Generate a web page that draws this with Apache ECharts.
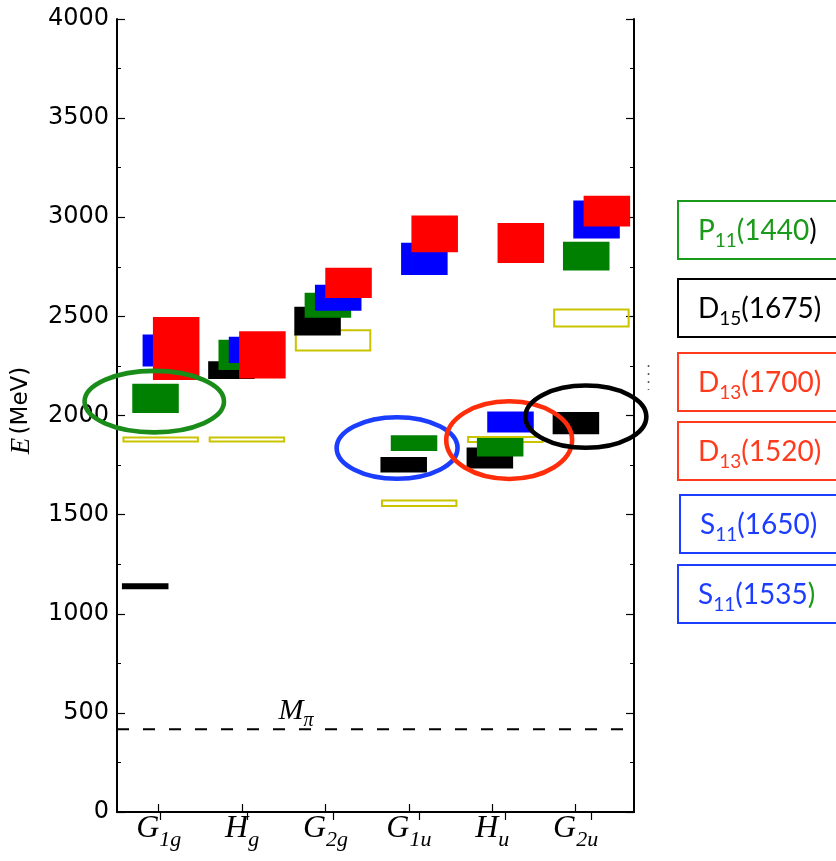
<!DOCTYPE html>
<html><head><meta charset="utf-8">
<script src="https://cdn.jsdelivr.net/npm/echarts@6/dist/echarts.min.js"></script>
<style>html,body{margin:0;padding:0;background:#fff}#c{width:836px;height:861px}</style>
</head><body><div id="c"></div>
<script>
// ---- data ----
const categoryMain = ['G', 'H', 'G', 'G', 'H', 'G'];
const categorySub  = ['1g', 'g', '2g', '1u', 'u', '2u'];
const categoryTicks = [1, 2, 3, 4, 5, 6];
const groupX = [1.024, 2.058, 3.091, 4.124, 5.157, 6.189];   // box-group positions (top ticks)
const yTicks = [0, 500, 1000, 1500, 2000, 2500, 3000, 3500, 4000];

// energies (MeV) and half-heights (MeV), per category
const blackE = [1139, 2229, 2476, 1752, 1786, 1962];
const blackH = [15, 45, 73, 39, 53, 56];
const greenE = [2086, 2306, 2556, 1861, 1840, 2804];
const greenH = [74, 76, 63, 40, 47, 72];
const blueE  = [2328, 2331, 2594, 2790, 1967, 2989];
const blueH  = [81, 66, 66, 81, 53, 96];
const redE   = [2338, 2306, 2669, 2916, 2870, 3031];
const redH   = [159, 119, 76, 93, 101, 78];
const yellowE = [1879, 1879, 2379, 1557, 1879, 2492];
const yellowH = [15, 15, 56, 19, 18, 48];

const mPi = 417;

// highlight ellipses: centre x, centre E, radius x, radius E
const ellipseX  = [0.947, 3.859, 5.203, 6.123];
const ellipseE  = [2070, 1836, 1876, 1994];
const ellipseRX = [0.836, 0.725, 0.755, 0.725];
const ellipseRE = [155, 155, 196, 157];

// side labels
const legendLetter = ['P', 'D', 'D', 'D', 'S', 'S'];
const legendSub    = ['11', '15', '13', '13', '11', '11'];
const legendMass   = ['1440', '1675', '1700', '1520', '1650', '1535'];

// ---- styles / layout ----
const GREEN_T = '#1a9a1a', RED_T = '#ff3b1e', BLUE_T = '#1c3cff';
const legendColor = [GREEN_T, '#000', RED_T, RED_T, BLUE_T, BLUE_T];
const legendCloseColor = ['#000', '#000', RED_T, RED_T, BLUE_T, GREEN_T];
const legendTop = [201, 279, 353, 422, 495, 565];
const legendLeft = [678, 678, 678, 678, 680, 678];
const ellipseColor = ['#1a8c1a', '#1a3dff', '#ff2d0a', '#000000'];

const X_MIN = 0.5, X_MAX = 6.7;
const BOX_W = 0.558, STEP = 0.1238, YEL_W = 0.917;

function boxSeries(E, H, level, color) {
  return {
    type: 'custom', silent: true, z: 3 + level,
    encode: { x: 0, y: 1 },
    data: groupX.map((x, i) => [x, E[i], H[i]]),
    renderItem: function (params, api) {
      const xc = api.value(0) + (level - 1.5) * STEP;
      const e = api.value(1), h = api.value(2);
      const p1 = api.coord([xc - BOX_W / 2, e + h]);
      const p2 = api.coord([xc + BOX_W / 2, e - h]);
      return { type: 'rect', shape: { x: p1[0], y: p1[1], width: p2[0] - p1[0], height: p2[1] - p1[1] },
               style: { fill: color } };
    }
  };
}

const yellowSeries = {
  type: 'custom', silent: true, z: 2,
  encode: { x: 0, y: 1 },
  data: groupX.map((x, i) => [x, yellowE[i], yellowH[i]]),
  renderItem: function (params, api) {
    const xc = api.value(0), e = api.value(1), h = api.value(2);
    const p1 = api.coord([xc - YEL_W / 2, e + h]);
    const p2 = api.coord([xc + YEL_W / 2, e - h]);
    return { type: 'rect', shape: { x: p1[0] + 1, y: p1[1] + 1, width: p2[0] - p1[0] - 2, height: p2[1] - p1[1] - 2 },
             style: { fill: 'none', stroke: '#c9c300', lineWidth: 2 } };
  }
};

const ellipseSeries = {
  type: 'custom', silent: true, z: 10, clip: false,
  encode: { x: 0, y: 1 },
  data: ellipseX.map((x, i) => [x, ellipseE[i], ellipseRX[i], ellipseRE[i], i]),
  renderItem: function (params, api) {
    const c = api.coord([api.value(0), api.value(1)]);
    const s = api.size([api.value(2), api.value(3)]);
    return { type: 'ellipse', shape: { cx: c[0], cy: c[1], rx: s[0], ry: s[1] },
             style: { fill: 'none', stroke: ellipseColor[api.value(4)], lineWidth: 4.6 } };
  }
};

const serifIt = { fontFamily: 'Liberation Serif', fontStyle: 'italic' };

const mpiSeries = {
  type: 'line', silent: true, z: 1, symbol: 'none',
  data: [[X_MIN, mPi], [X_MAX, mPi]],
  lineStyle: { color: '#000', width: 2, type: [12, 14] },
  markPoint: {
    symbol: 'circle', symbolSize: 0, silent: true,
    data: [{ coord: [2.648, mPi] }],
    label: {
      show: true, position: 'top', distance: 2,
      formatter: '{m|M}{p|π}',
      rich: {
        m: Object.assign({ fontSize: 30, color: '#000', lineHeight: 32 }, serifIt),
        p: Object.assign({ fontSize: 20, color: '#000', lineHeight: 32, padding: [18, 0, 0, 0] }, serifIt)
      }
    }
  }
};

// side labels
const graphics = [];
legendLetter.forEach((L, i) => {
  const c = legendColor[i];
  const tok = (k, col, sub) => ({ fontFamily: 'Lato', fontSize: sub ? 19 : 28, fill: col, color: col,
                                  lineHeight: 34, padding: sub ? [20, 0, 0, 0] : 0 });
  graphics.push({
    type: 'rect', silent: true,
    shape: { x: legendLeft[i], y: legendTop[i], width: 200, height: 58 },
    style: { fill: 'none', stroke: c, lineWidth: 2 }
  });
  graphics.push({
    type: 'text', silent: true, x: legendLeft[i] + 20, y: legendTop[i] + 30,
    style: {
      text: '{a|' + L + '}{s|' + legendSub[i] + '}{a|(' + legendMass[i] + '}{z|)}',
      verticalAlign: 'middle', align: 'left',
      rich: { a: tok('a', c, false), s: tok('s', c, true), z: tok('z', legendCloseColor[i], false) }
    }
  });
});
graphics.push({ type: 'line', silent: true, shape: { x1: 648.5, y1: 365, x2: 648.5, y2: 390 },
                style: { stroke: '#555', lineWidth: 1.5, lineDash: [2, 6] } });

const axisLineStyle = { lineStyle: { color: '#000', width: 2 } };

const option = {
  animation: false,
  backgroundColor: '#fff',
  grid: { left: 117, right: 202, top: 19, bottom: 49 },
  xAxis: [
    {
      type: 'value', position: 'bottom', min: X_MIN, max: X_MAX,
      axisLine: axisLineStyle, splitLine: { show: false },
      axisTick: { show: true, inside: true, length: 8, customValues: categoryTicks, lineStyle: { color: '#000', width: 1.2 } },
      axisLabel: {
        show: true, customValues: categoryTicks, margin: 0, color: '#000',
        formatter: function (v) {
          const i = Math.round(v) - 1;
          return '{m|' + categoryMain[i] + '}{s|' + categorySub[i] + '}';
        },
        rich: {
          m: Object.assign({ fontSize: 32, color: '#000', lineHeight: 34 }, serifIt),
          s: Object.assign({ fontSize: 22, color: '#000', lineHeight: 34, padding: [22, 0, 0, 0] }, serifIt)
        }
      }
    },
    {
      type: 'value', position: 'top', min: X_MIN, max: X_MAX,
      axisLine: axisLineStyle, splitLine: { show: false },
      axisTick: { show: true, inside: true, length: 8, customValues: groupX, lineStyle: { color: '#000', width: 1.2 } },
      axisLabel: { show: false }
    }
  ],
  yAxis: [
    {
      type: 'value', position: 'left', min: 0, max: 4000, interval: 500,
      axisLine: axisLineStyle, splitLine: { show: false },
      axisTick: { show: true, inside: true, length: 8, lineStyle: { color: '#000', width: 1.2 } },
      minorTick: { show: true, splitNumber: 2, length: 4, lineStyle: { color: '#000', width: 1 } },
      axisLabel: { color: '#000', fontFamily: 'DejaVu Sans', fontSize: 24, margin: 8,
                   customValues: yTicks, formatter: v => String(v) },
      name: '{e|E} {t|(MeV)}', nameLocation: 'middle', nameGap: 82, nameRotate: 90,
      nameTextStyle: {
        padding: [0, 0, 0, 10],
        rich: {
          e: Object.assign({ fontSize: 27, color: '#000' }, serifIt),
          t: { fontFamily: 'DejaVu Sans', fontSize: 23, color: '#000' }
        }
      }
    },
    {
      type: 'value', position: 'right', min: 0, max: 4000, interval: 500,
      axisLine: axisLineStyle, splitLine: { show: false },
      axisTick: { show: true, inside: true, length: 8, lineStyle: { color: '#000', width: 1.2 } },
      minorTick: { show: true, splitNumber: 2, length: 4, lineStyle: { color: '#000', width: 1 } },
      axisLabel: { show: false }
    }
  ],
  series: [
    mpiSeries,
    yellowSeries,
    boxSeries(blackE, blackH, 0, '#000000'),
    boxSeries(greenE, greenH, 1, '#008000'),
    boxSeries(blueE, blueH, 2, '#0000ff'),
    boxSeries(redE, redH, 3, '#ff0000'),
    ellipseSeries
  ],
  graphic: graphics
};

const chart = echarts.init(document.getElementById('c'));
chart.setOption(option);
</script>
</body></html>
